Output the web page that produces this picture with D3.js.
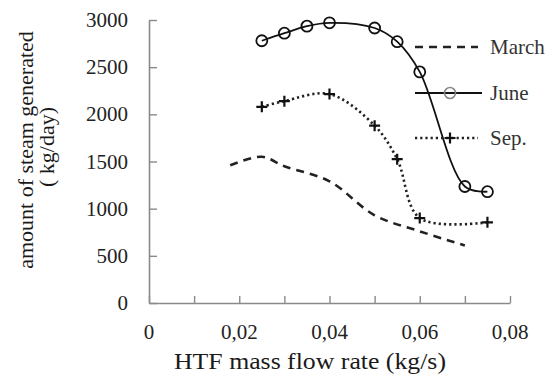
<!DOCTYPE html>
<html>
<head>
<meta charset="utf-8">
<script src="https://cdn.jsdelivr.net/npm/d3@7"></script>
<style>
  html, body { margin: 0; padding: 0; background: #fff; }
  svg { display: block; font-family: "Liberation Serif", "Times New Roman", serif; }
</style>
</head>
<body>
<svg id="chart" width="555" height="388"></svg>
<script>
// Flow rates (kg/s) and daily steam output (kg/day) per month
const marchX = [0.018, 0.025, 0.03, 0.04, 0.05, 0.06, 0.07];
const marchY = [1460, 1550, 1450, 1290, 930, 760, 610];
const juneX  = [0.025, 0.03, 0.035, 0.04, 0.05, 0.055, 0.06, 0.07, 0.075];
const juneY  = [2780, 2860, 2935, 2970, 2915, 2770, 2450, 1235, 1180];
const sepX   = [0.025, 0.03, 0.04, 0.05, 0.055, 0.06, 0.075];
const sepY   = [2080, 2140, 2215, 1880, 1525, 900, 855];

const xTicks = [0, 0.02, 0.04, 0.06, 0.08];
const xMinorTicks = [0.01, 0.03, 0.05, 0.07];
const yTicks = [0, 500, 1000, 1500, 2000, 2500, 3000];
const xLabels = ["0", "0,02", "0,04", "0,06", "0,08"];
const legendNames = ["March", "June", "Sep."];

const svg = d3.select("#chart");
const x = d3.scaleLinear().domain([0, 0.08]).range([149, 510]);
const y = d3.scaleLinear().domain([0, 3000]).range([303, 20]);

const axisColor = "#8a8a8a";

// axes: ticks point inward
const gx = svg.append("g").attr("transform", `translate(0,${y(0)})`)
  .call(d3.axisBottom(x).tickValues(xTicks.concat(xMinorTicks)).tickSizeInner(-7).tickSizeOuter(0).tickFormat(""));
const gy = svg.append("g").attr("transform", `translate(${x(0)},0)`)
  .call(d3.axisLeft(y).tickValues(yTicks).tickSizeInner(-8).tickSizeOuter(0).tickFormat(""));
[gx, gy].forEach(g => {
  g.select(".domain").attr("stroke", axisColor).attr("stroke-width", 1.6);
  g.selectAll(".tick line").attr("stroke", axisColor).attr("stroke-width", 1.4);
});

// tick labels
svg.append("g").selectAll("text").data(xTicks).join("text")
  .attr("x", d => x(d)).attr("y", 339)
  .attr("text-anchor", "middle").attr("font-size", 21).attr("fill", "#222")
  .text((d, i) => xLabels[i]);
svg.append("g").selectAll("text").data(yTicks).join("text")
  .attr("x", 128).attr("y", d => y(d) + 7)
  .attr("text-anchor", "end").attr("font-size", 21).attr("fill", "#222")
  .text(d => d);

// axis titles
svg.append("text").attr("x", 310).attr("y", 369).attr("text-anchor", "middle")
  .attr("font-size", 23).attr("fill", "#1a1a1a")
  .attr("textLength", 272).attr("lengthAdjust", "spacingAndGlyphs")
  .text("HTF mass flow rate (kg/s)");
svg.append("text").attr("transform", "translate(33,150) rotate(-90)").attr("text-anchor", "middle")
  .attr("font-size", 22).attr("fill", "#1a1a1a").text("amount of steam generated");
svg.append("text").attr("transform", "translate(54,147) rotate(-90)").attr("text-anchor", "middle")
  .attr("font-size", 22).attr("fill", "#1a1a1a").text("( kg/day)");

const line = d3.line().x(d => x(d[0])).y(d => y(d[1])).curve(d3.curveCatmullRom.alpha(0.5));
const zip = (xs, ys) => xs.map((v, i) => [v, ys[i]]);

const march = zip(marchX, marchY);
const june = zip(juneX, juneY);
const sep = zip(sepX, sepY);

svg.append("path").datum(march).attr("d", line).attr("fill", "none")
  .attr("stroke", "#222").attr("stroke-width", 2.6).attr("stroke-dasharray", "8,6");
svg.append("path").datum(sep).attr("d", line).attr("fill", "none")
  .attr("stroke", "#222").attr("stroke-width", 2.6).attr("stroke-dasharray", "2.2,3");
svg.append("path").datum(june).attr("d", line).attr("fill", "none")
  .attr("stroke", "#111").attr("stroke-width", 1.8);

function plusPath(cx, cy, s) {
  return `M${cx - s},${cy}H${cx + s}M${cx},${cy - s}V${cy + s}`;
}

svg.append("g").selectAll("circle").data(june).join("circle")
  .attr("cx", d => x(d[0])).attr("cy", d => y(d[1])).attr("r", 5.5)
  .attr("fill", "none").attr("stroke", "#111").attr("stroke-width", 1.8);
svg.append("g").selectAll("path").data(sep).join("path")
  .attr("d", d => plusPath(x(d[0]), y(d[1]), 5.5))
  .attr("stroke", "#111").attr("stroke-width", 2.2);

// legend
const legY = [47, 93, 138];
const lg = svg.append("g");
lg.append("line").attr("x1", 415).attr("x2", 478).attr("y1", legY[0]).attr("y2", legY[0])
  .attr("stroke", "#222").attr("stroke-width", 2.6).attr("stroke-dasharray", "8,6");
lg.append("line").attr("x1", 415).attr("x2", 482).attr("y1", legY[1]).attr("y2", legY[1])
  .attr("stroke", "#111").attr("stroke-width", 1.8);
lg.append("circle").attr("cx", 450).attr("cy", legY[1]).attr("r", 5.5)
  .attr("fill", "none").attr("stroke", "#888").attr("stroke-width", 1.6);
lg.append("line").attr("x1", 415).attr("x2", 478).attr("y1", legY[2]).attr("y2", legY[2])
  .attr("stroke", "#222").attr("stroke-width", 2.6).attr("stroke-dasharray", "2.2,3");
lg.append("path").attr("d", plusPath(450, legY[2], 5.5)).attr("stroke", "#111").attr("stroke-width", 2.2);
lg.selectAll("text").data(legendNames).join("text")
  .attr("x", 490).attr("y", (d, i) => legY[i] + 7)
  .attr("font-size", 21).attr("fill", "#333").text(d => d);
</script>
</body>
</html>
